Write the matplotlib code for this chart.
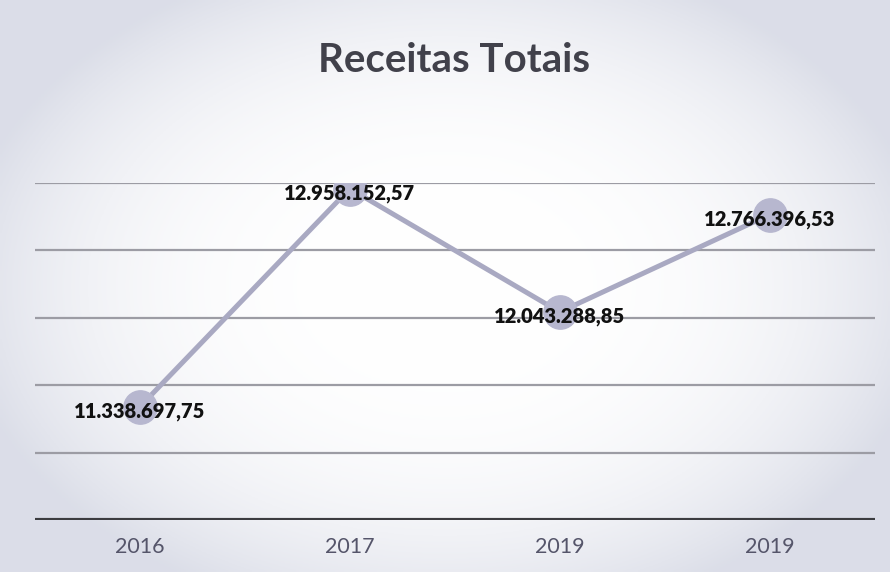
import matplotlib.pyplot as plt
import numpy as np

anos = ['2016', '2017', '2019', '2019']
receitas = [11338697.75, 12958152.57, 12043288.85, 12766396.53]
rotulos = ['11.338.697,75', '12.958.152,57', '12.043.288,85', '12.766.396,53']
grade = [10.5e6, 11.0e6, 11.5e6, 12.0e6, 12.5e6, 13.0e6]

fig = plt.figure(figsize=(8.9, 5.72), dpi=100)
fig.patch.set_facecolor('#f1f2f6')

# light scanned-paper background: white centre, greyish edges
bg = fig.add_axes([0, 0, 1, 1], zorder=-1)
yy, xx = np.mgrid[-1:1:200j, -1:1:300j]
r = np.clip(np.sqrt((xx / 1.1) ** 2 + (yy / 1.2) ** 2), 0, 1)
img = np.ones((200, 300, 3))
edge = np.array([0.86, 0.87, 0.91])
img = img * (1 - r[..., None] ** 3) + edge * r[..., None] ** 3
bg.imshow(img, aspect='auto', extent=[0, 1, 0, 1])
bg.axis('off')

ax = fig.add_axes([0.039, 0.091, 0.944, 0.589])
ax.patch.set_alpha(0)
x = np.arange(len(anos))

for g in grade[1:]:
    ax.axhline(g, color='#9c9ca4', lw=1.6, zorder=1)
ax.axhline(grade[0], color='#3c3c40', lw=3, zorder=2)

ax.plot(x, receitas, color='#a9a9c2', lw=3.6, marker='o', markersize=24,
        markerfacecolor='#b7b7cf', markeredgecolor='#b7b7cf', zorder=3)

for xi, v, t in zip(x, receitas, rotulos):
    ax.text(xi, v - 35000, t, ha='center', va='center', fontsize=14.5,
            fontweight='heavy', family='Lato', color='#111111', zorder=4)

ax.set_xlim(-0.5, 3.5)
ax.set_ylim(grade[0], grade[-1])
ax.set_xticks(x)
ax.set_xticklabels(anos, fontsize=15.5, color='#55556a', family='Lato')
ax.tick_params(axis='x', length=0, pad=12)
ax.set_yticks([])
for s in ax.spines.values():
    s.set_visible(False)

fig.text(0.51, 0.895, 'Receitas Totais', ha='center', va='center',
         fontsize=29, fontweight='bold', family='Lato', color='#41414b')

plt.savefig('out.png', dpi=100)
